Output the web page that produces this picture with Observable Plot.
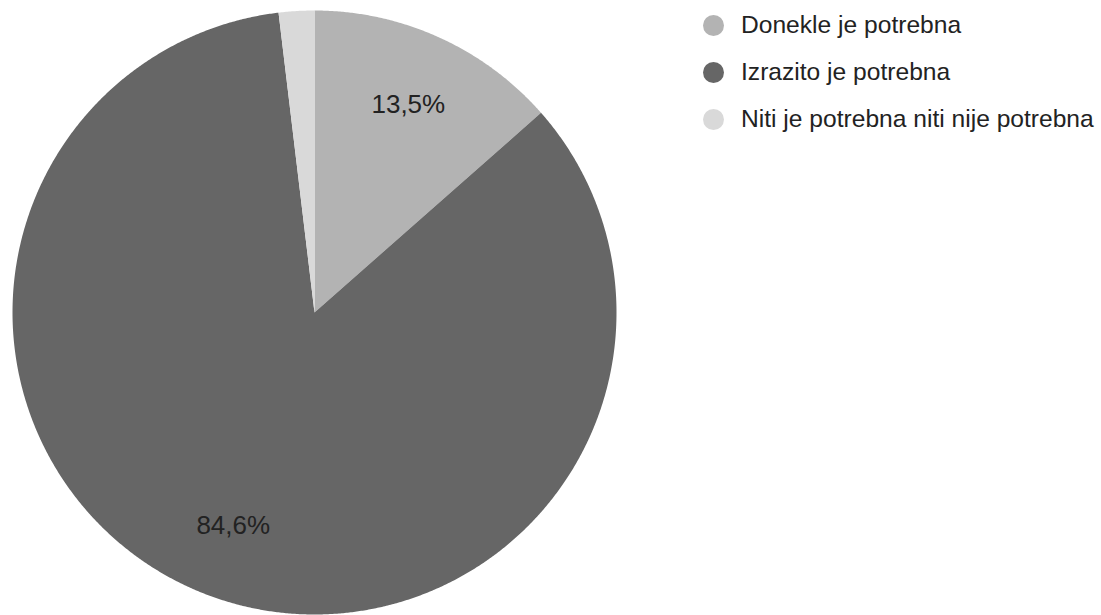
<!DOCTYPE html>
<html>
<head>
<meta charset="utf-8">
<script src="https://cdn.jsdelivr.net/npm/d3@7"></script>
<script src="https://cdn.jsdelivr.net/npm/@observablehq/plot@0.6"></script>
<style>
  body { margin: 0; background: #fff; font-family: "Liberation Sans", Arial, sans-serif; }
  #wrap { position: relative; width: 1101px; height: 615px; overflow: hidden; }
  #legend .item { position: absolute; left: 703px; height: 30px; display: flex; align-items: center; white-space: nowrap; }
  #legend .sw { width: 21px; height: 21px; border-radius: 50%; flex: none; }
  #legend .tx { margin-left: 17px; font-size: 24.6px; line-height: 30px; color: #222; }
</style>
</head>
<body>
<div id="wrap"><div id="chart"></div><div id="legend"></div></div>
<script>
const categories = ["Donekle je potrebna", "Izrazito je potrebna", "Niti je potrebna niti nije potrebna"];
const values = [13.5, 84.6, 1.9];
const labels = ["13,5%", "84,6%", ""];
const colors = ["#b3b3b3", "#666666", "#d9d9d9"];

const arcs = d3.pie().sort(null).value(d => d)(values);

// slice polygons in unit-circle data space (angle 0 at top, clockwise)
const marks = arcs.map((a, i) => {
  const steps = Math.max(2, Math.ceil((a.endAngle - a.startAngle) / 0.005));
  const pts = [{x: 0, y: 0}];
  for (let k = 0; k <= steps; k++) {
    const t = a.startAngle + (a.endAngle - a.startAngle) * k / steps;
    pts.push({x: Math.sin(t), y: Math.cos(t)});
  }
  return Plot.line(pts, {x: "x", y: "y", fill: colors[i], stroke: "none", curve: "linear-closed"});
});

const labelData = arcs.map((a, i) => {
  const m = (a.startAngle + a.endAngle) / 2;
  return {x: 0.755 * Math.sin(m), y: 0.755 * Math.cos(m), text: labels[i]};
}).filter(d => d.text);

const chart = Plot.plot({
  width: 1101,
  height: 615,
  marginLeft: 12,
  marginRight: 485,
  marginTop: 10,
  marginBottom: 1,
  x: {domain: [-1, 1], axis: null},
  y: {domain: [-1, 1], axis: null},
  style: {background: "#fff", fontFamily: "'Liberation Sans', Arial, sans-serif"},
  marks: [
    ...marks,
    Plot.text(labelData, {x: "x", y: "y", text: "text", fontSize: 26, fill: "#222"})
  ]
});
document.getElementById("chart").appendChild(chart);

const legend = document.getElementById("legend");
categories.forEach((c, i) => {
  const item = document.createElement("div");
  item.className = "item";
  item.style.top = (25 + i * 47 - 15) + "px";
  const sw = document.createElement("span");
  sw.className = "sw";
  sw.style.background = colors[i];
  const tx = document.createElement("span");
  tx.className = "tx";
  tx.textContent = c;
  item.appendChild(sw);
  item.appendChild(tx);
  legend.appendChild(item);
});
</script>
</body>
</html>
